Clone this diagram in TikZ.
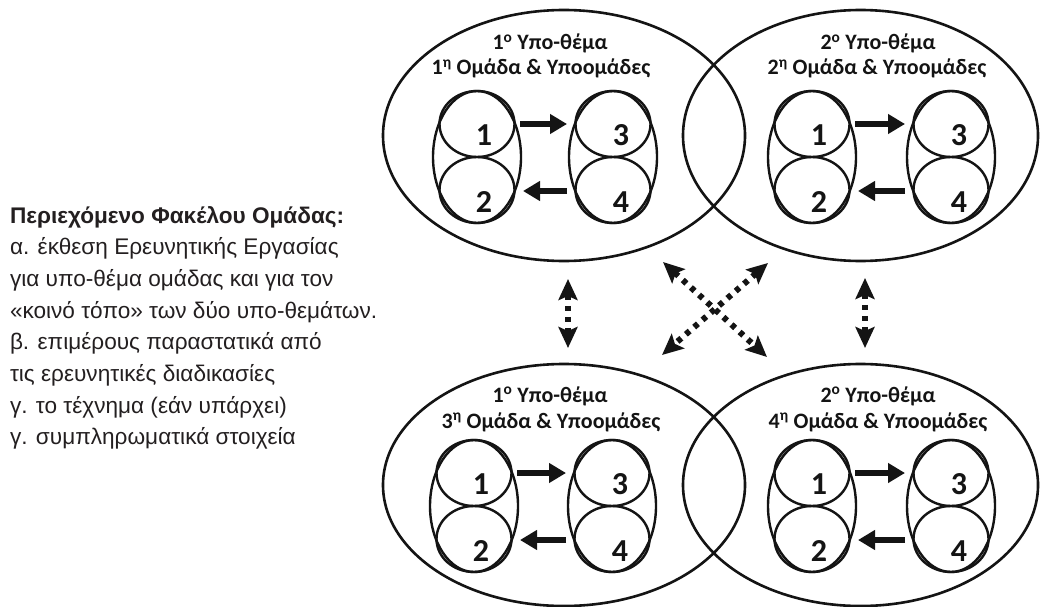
\documentclass[tikz,border=0pt]{standalone}
\usepackage{fontspec}
\setmainfont{Liberation Sans}
\newfontfamily\labelfont{Carlito}
\usetikzlibrary{shapes.geometric,arrows.meta}
\definecolor{ink}{RGB}{20,20,20}
\definecolor{prose}{RGB}{35,31,32}
\begin{document}
\begin{tikzpicture}[x=1pt,y=-1pt,
  every node/.style={inner sep=0pt, outer sep=0pt},
  topic/.style={draw=ink, ellipse, line width=2.6pt},
  pod/.style={draw=ink, ellipse, line width=2.4pt, minimum width=88pt, minimum height=132pt},
  cell/.style={draw=ink, ellipse, line width=2.4pt, minimum width=75pt, minimum height=66pt},
  digit/.style={font=\labelfont\bfseries\fontsize{32}{32}\selectfont, text=ink},
  heading/.style={font=\labelfont\bfseries\fontsize{22}{22}\selectfont, text=ink, anchor=base},
  prose/.style={font=\fontsize{22.6}{22.6}\selectfont, text=prose, anchor=base west},
  flow/.style={draw=ink, line width=6pt, -{Triangle[length=17pt,width=19pt]}},
  link/.style={draw=ink, line width=6pt, dash pattern=on 5pt off 6pt,
    {Stealth[length=21pt,width=19pt,inset=4pt]}-{Stealth[length=21pt,width=19pt,inset=4pt]}}
]
\fill[white] (0,0) rectangle (1041,607);
\useasboundingbox (0,0) rectangle (1041,607);

% the four sub-topic ellipses
\node[topic, minimum width=362pt, minimum height=251pt] (A) at (564,135.5) {};
\node[topic, minimum width=355pt, minimum height=251pt] (B) at (860.5,135.5) {};
\node[topic, minimum width=362pt, minimum height=242pt] (C) at (564,485) {};
\node[topic, minimum width=355pt, minimum height=242pt] (D) at (860.5,485) {};

% headings
\node[heading] (A-t1) at (550,50) {1\textsuperscript{ο} Υπο-θέμα};
\node[heading] (A-t2) at (541,75) {1\textsuperscript{η} Ομάδα \& Υποομάδες};
\node[heading] (B-t1) at (878,50) {2\textsuperscript{ο} Υπο-θέμα};
\node[heading] (B-t2) at (877,75) {2\textsuperscript{η} Ομάδα \& Υποομάδες};
\node[heading] (C-t1) at (550,402) {1\textsuperscript{ο} Υπο-θέμα};
\node[heading] (C-t2) at (551,428) {3\textsuperscript{η} Ομάδα \& Υποομάδες};
\node[heading] (D-t1) at (878,402) {2\textsuperscript{ο} Υπο-θέμα};
\node[heading] (D-t2) at (878,428) {4\textsuperscript{η} Ομάδα \& Υποομάδες};

% sub-groups 1-2 and 3-4 inside every ellipse
\foreach \g/\lx/\rx/\cy in {A/477/613/157, B/812/951/157, C/474/612/506, D/812/951/506}{
  \node[pod] (\g-p1) at (\lx,\cy) {};
  \node[cell] (\g-a) at (\lx,\cy-33) {};
  \node[cell] (\g-b) at (\lx,\cy+33) {};
  \node[pod] (\g-p2) at (\rx,\cy) {};
  \node[cell] (\g-c) at (\rx,\cy-33) {};
  \node[cell] (\g-d) at (\rx,\cy+33) {};
  \node[digit] (\g-n1) at (\lx+7,\cy-22) {1};
  \node[digit] (\g-n2) at (\lx+7,\cy+45) {2};
  \node[digit] (\g-n3) at (\rx+8,\cy-22) {3};
  \node[digit] (\g-n4) at (\rx+8,\cy+45) {4};
  \coordinate (\g-s1) at (\lx+43,\cy-33);
  \coordinate (\g-e1) at (\rx-46,\cy-33);
  \coordinate (\g-s2) at (\rx-46,\cy+34);
  \coordinate (\g-e2) at (\lx+46,\cy+34);
  \draw[flow] (\g-s1) -- (\g-e1);
  \draw[flow] (\g-s2) -- (\g-e2);
}

% exchanges between the groups
\coordinate (v1a) at (568,279);
\coordinate (v1b) at (568,348);
\coordinate (v2a) at (865,278);
\coordinate (v2b) at (865,348);
\coordinate (x1a) at (663,262);
\coordinate (x1b) at (767,357);
\coordinate (x2a) at (768,263);
\coordinate (x2b) at (662,355);
\draw[link] (v1a) -- (v1b);
\draw[link] (v2a) -- (v2b);
\draw[link] (x1a) -- (x1b);
\draw[link] (x2a) -- (x2b);

% contents of the group folder
\node[prose, font=\bfseries\fontsize{22.6}{22.6}\selectfont] (p1) at (10,223) {Περιεχόμενο Φακέλου Ομάδας:};
\node[prose] (p2) at (10,254.7) {α. έκθεση Ερευνητικής Εργασίας};
\node[prose] (p3) at (10,286.4) {για υπο-θέμα ομάδας και για τον};
\node[prose] (p4) at (10,318.1) {«κοινό τόπο» των δύο υπο-θεμάτων.};
\node[prose] (p5) at (10,349.8) {β. επιμέρους παραστατικά από};
\node[prose] (p6) at (10,381.5) {τις ερευνητικές διαδικασίες};
\node[prose] (p7) at (10,413.2) {γ. το τέχνημα (εάν υπάρχει)};
\node[prose] (p8) at (10,444.9) {γ. συμπληρωματικά στοιχεία};
\end{tikzpicture}
\end{document}
